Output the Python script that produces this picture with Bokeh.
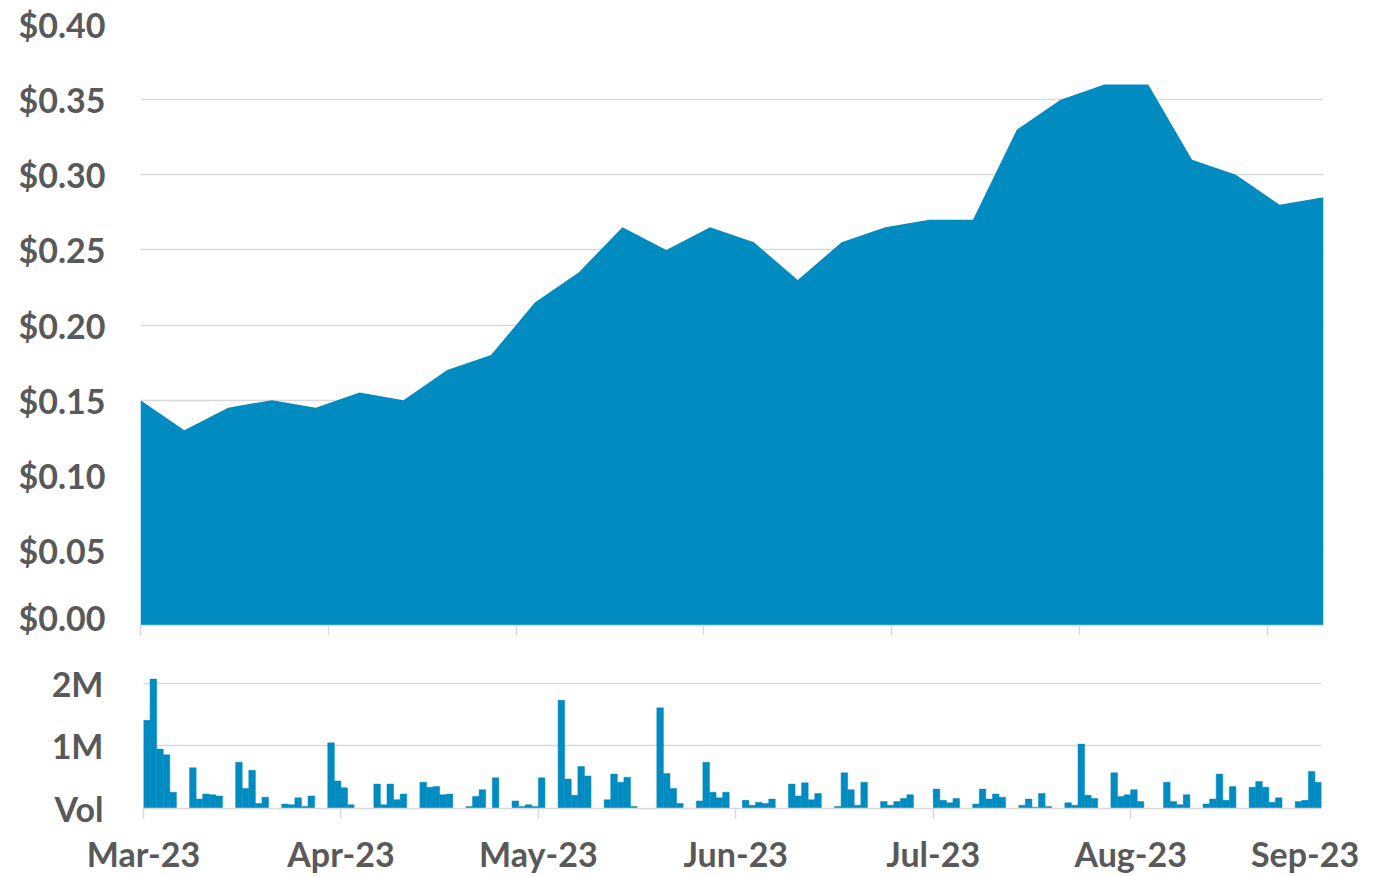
from bokeh.plotting import figure
from bokeh.models import Range1d, FixedTicker, NumeralTickFormatter, LinearAxis
from bokeh.embed import file_html
from bokeh.resources import INLINE

# ---------------- data ----------------
# weekly closing price, x = days since 1 Mar 2023
price_day = [0, 7, 14, 21, 28, 35, 42, 49, 56, 63, 70, 77, 84, 91,
             98, 105, 112, 119, 126, 133, 140, 147, 154, 161, 168, 175, 182, 189]
price = [0.150, 0.130, 0.145, 0.150, 0.145, 0.155, 0.150, 0.170, 0.180, 0.215,
         0.235, 0.265, 0.250, 0.265, 0.255, 0.230, 0.255, 0.265, 0.270, 0.270,
         0.330, 0.350, 0.360, 0.360, 0.310, 0.300, 0.280, 0.285]

# daily volume (millions), grouped by trading week; week_start = day offset of first session
week_start = [0, 7, 14, 21, 28, 35, 42, 49, 56, 63, 70, 77, 84,
              91, 98, 105, 112, 119, 126, 133, 140, 147, 154, 161, 168, 175]
week_vol = [
    [1.41, 2.07, 0.95, 0.86, 0.26],
    [0.65, 0.15, 0.23, 0.22, 0.20],
    [0.74, 0.32, 0.61, 0.08, 0.18],
    [0.07, 0.06, 0.17, 0.03, 0.20],
    [1.05, 0.44, 0.33, 0.06, 0.00],
    [0.39, 0.06, 0.39, 0.14, 0.23],
    [0.42, 0.34, 0.35, 0.22, 0.23],
    [0.03, 0.19, 0.30, 0.00, 0.49],
    [0.12, 0.03, 0.06, 0.03, 0.49],
    [1.73, 0.47, 0.21, 0.67, 0.52],
    [0.14, 0.55, 0.42, 0.50, 0.03],
    [0.00, 1.61, 0.56, 0.32, 0.08],
    [0.12, 0.74, 0.26, 0.17, 0.26],
    [0.13, 0.05, 0.10, 0.08, 0.15],
    [0.39, 0.20, 0.41, 0.14, 0.24],
    [0.03, 0.57, 0.30, 0.05, 0.42],
    [0.11, 0.05, 0.11, 0.16, 0.22],
    [0.00, 0.31, 0.13, 0.09, 0.16],
    [0.07, 0.31, 0.15, 0.23, 0.18],
    [0.05, 0.15, 0.02, 0.24, 0.03],
    [0.09, 0.05, 1.03, 0.21, 0.16],
    [0.57, 0.19, 0.22, 0.30, 0.11],
    [0.00, 0.42, 0.11, 0.06, 0.22],
    [0.07, 0.15, 0.55, 0.13, 0.35],
    [0.34, 0.43, 0.34, 0.10, 0.17],
    [0.11, 0.13, 0.59, 0.42],
]

month_tick_day = [0, 30, 60, 90, 120, 150, 180]
month_label = ["Mar-23", "Apr-23", "May-23", "Jun-23", "Jul-23", "Aug-23", "Sep-23"]

price_ticks = [0.0, 0.05, 0.10, 0.15, 0.20, 0.25, 0.30, 0.35, 0.40]
vol_ticks = [0, 1, 2]
vol_tick_labels = ["Vol", "1M", "2M"]

# ---------------- style ----------------
BLUE = "#008BC1"
GRID = "#D9D9D9"
TXT = "#595959"
FONT = "Lato"
FS = "34px"
VOL_END = 179          # last volume day shown
SEP_LABEL_POS = 176.5  # last month label is pulled inside the plot edge, as in the source
W = 1370

vol_day, vol = [], []
for ws, vals in zip(week_start, week_vol):
    for i, v in enumerate(vals):
        vol_day.append(ws + i + 0.5)
        vol.append(v)


def style_y(ax, standoff):
    ax.axis_line_color = None
    ax.major_tick_line_color = None
    ax.minor_tick_line_color = None
    ax.major_tick_out = 0
    ax.major_tick_in = 0
    ax.major_label_standoff = standoff
    ax.major_label_text_font = FONT
    ax.major_label_text_font_style = "bold"
    ax.major_label_text_font_size = FS
    ax.major_label_text_color = TXT


def style_tick_only_x(ax, ticks):
    ax.ticker = FixedTicker(ticks=ticks)
    ax.major_label_overrides = {t: "" for t in ticks}
    ax.major_label_text_font_size = "1px"
    ax.major_label_standoff = 0
    ax.axis_line_color = GRID
    ax.axis_line_width = 1.5
    ax.major_tick_line_color = GRID
    ax.major_tick_line_width = 1.5
    ax.major_tick_in = 0
    ax.major_tick_out = 10
    ax.minor_tick_line_color = None


# ---------------- price chart ----------------
p1 = figure(width=W, height=637, output_backend="svg", toolbar_location=None,
            x_range=Range1d(0, 189), y_range=Range1d(0, 0.40),
            min_border_left=140, min_border_right=W - 1323, min_border_top=24,
            min_border_bottom=12)
p1.varea(x=price_day, y1=0, y2=price, fill_color=BLUE, fill_alpha=1)
p1.outline_line_color = None
p1.xgrid.grid_line_color = None
p1.ygrid.grid_line_color = GRID
p1.ygrid.grid_line_width = 1.5
p1.yaxis.ticker = FixedTicker(ticks=price_ticks)
p1.yaxis.formatter = NumeralTickFormatter(format="$0.00")
style_y(p1.yaxis[0], 35)
style_tick_only_x(p1.xaxis[0], month_tick_day)

# ---------------- volume chart ----------------
p2 = figure(width=W, height=239, output_backend="svg", toolbar_location=None,
            x_range=Range1d(0, VOL_END), y_range=Range1d(0, 2.095),
            min_border_left=143, min_border_right=W - 1321, min_border_top=40,
            min_border_bottom=67)
p2.vbar(x=vol_day, width=1, top=vol, bottom=0, fill_color=BLUE,
        line_color=BLUE, line_width=0.5)
p2.outline_line_color = None
p2.xgrid.grid_line_color = None
p2.ygrid.grid_line_color = GRID
p2.ygrid.grid_line_width = 1.5
p2.yaxis.ticker = FixedTicker(ticks=vol_ticks)
p2.yaxis.major_label_overrides = {t: l for t, l in zip(vol_ticks, vol_tick_labels)}
style_y(p2.yaxis[0], 40)
shown = [d for d in month_tick_day if d <= VOL_END]
style_tick_only_x(p2.xaxis[0], shown)

# month labels on a second, mark-free axis (so the last one can sit inside the edge)
label_pos = shown + [SEP_LABEL_POS]
lab_ax = LinearAxis(ticker=FixedTicker(ticks=label_pos),
                    major_label_overrides={d: l for d, l in zip(label_pos, month_label)})
lab_ax.axis_line_color = None
lab_ax.major_tick_line_color = None
lab_ax.minor_tick_line_color = None
lab_ax.major_tick_in = 0
lab_ax.major_tick_out = 0
lab_ax.major_label_standoff = 14
lab_ax.major_label_text_font = FONT
lab_ax.major_label_text_font_style = "bold"
lab_ax.major_label_text_font_size = FS
lab_ax.major_label_text_color = TXT
p2.add_layout(lab_ax, "below")

# two independent roots stacked on the page (keeps each chart's own frame edges)
open("out.html", "w").write(file_html([p1, p2], INLINE))
